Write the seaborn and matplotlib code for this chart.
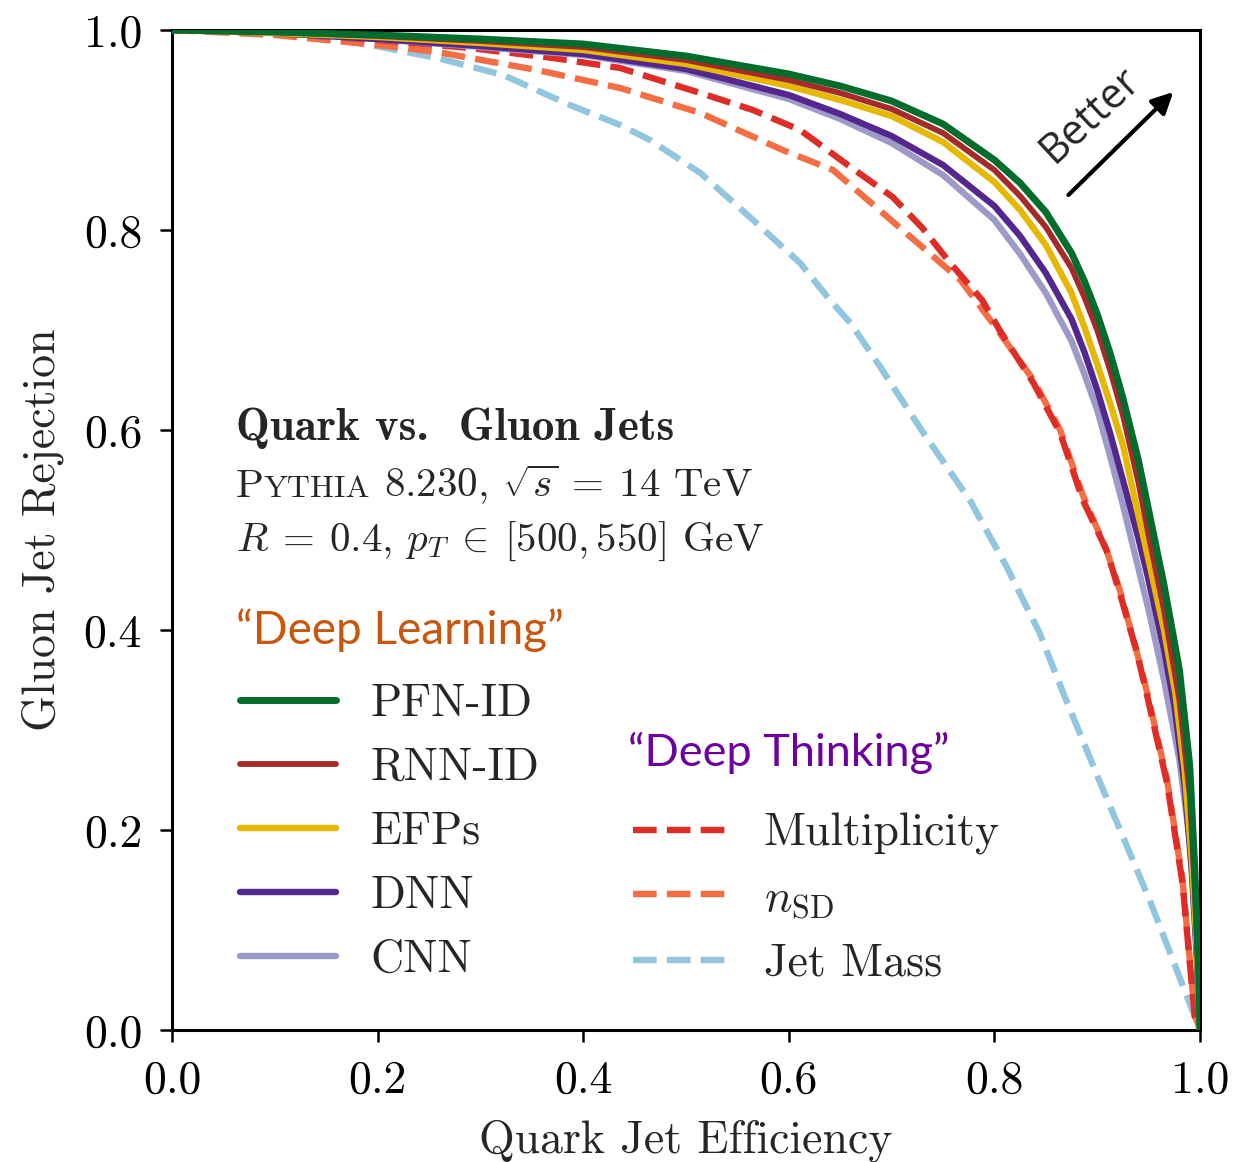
import numpy as np
import pandas as pd
import matplotlib
matplotlib.use("Agg")
import matplotlib.pyplot as plt
import seaborn as sns


# =============================================================================
# DATOS
# =============================================================================
x_pfn = [0.0, 0.1, 0.2, 0.3, 0.4, 0.5, 0.6, 0.65, 0.7, 0.75, 0.8, 0.825, 0.85,
         0.875, 0.8875, 0.9, 0.9125, 0.925, 0.94, 0.95, 0.965, 0.98, 0.99,
         0.995, 0.999, 1.0]
y_pfn = [1.0, 0.998, 0.995, 0.991, 0.986, 0.974, 0.956, 0.944, 0.929, 0.906,
         0.870, 0.847, 0.818, 0.777, 0.749, 0.716, 0.677, 0.632, 0.570, 0.520,
         0.445, 0.360, 0.265, 0.160, 0.050, 0.0]

x_rnn = [0.0, 0.1, 0.2, 0.3, 0.4, 0.5, 0.6, 0.65, 0.7, 0.75, 0.8, 0.825, 0.85,
         0.875, 0.8875, 0.9, 0.9125, 0.925, 0.94, 0.95, 0.965, 0.98, 0.99,
         0.995, 0.999, 1.0]
y_rnn = [1.0, 0.998, 0.994, 0.989, 0.983, 0.970, 0.950, 0.937, 0.921, 0.897,
         0.860, 0.834, 0.803, 0.762, 0.733, 0.700, 0.660, 0.615, 0.548, 0.495,
         0.420, 0.330, 0.235, 0.140, 0.040, 0.0]

x_efp = [0.0, 0.1, 0.2, 0.3, 0.4, 0.5, 0.6, 0.65, 0.7, 0.75, 0.8, 0.825, 0.85,
         0.875, 0.8875, 0.9, 0.9125, 0.925, 0.94, 0.95, 0.965, 0.976, 0.985,
         0.992, 0.997, 1.0]
y_efp = [1.0, 0.997, 0.993, 0.987, 0.980, 0.966, 0.944, 0.930, 0.914, 0.888,
         0.848, 0.820, 0.785, 0.737, 0.703, 0.666, 0.627, 0.585, 0.515, 0.470,
         0.400, 0.337, 0.260, 0.170, 0.080, 0.0]

x_dnn = [0.0, 0.1, 0.2, 0.3, 0.4, 0.5, 0.6, 0.65, 0.7, 0.75, 0.8, 0.825, 0.85,
         0.875, 0.8875, 0.9, 0.9125, 0.925, 0.94, 0.95, 0.965, 0.975, 0.985,
         0.992, 0.997, 1.0]
y_dnn = [1.0, 0.997, 0.991, 0.984, 0.976, 0.961, 0.935, 0.916, 0.894, 0.865,
         0.824, 0.794, 0.757, 0.711, 0.678, 0.640, 0.597, 0.550, 0.492, 0.450,
         0.380, 0.325, 0.245, 0.160, 0.070, 0.0]

x_cnn = [0.0, 0.1, 0.2, 0.3, 0.4, 0.5, 0.6, 0.65, 0.7, 0.75, 0.8, 0.825, 0.85,
         0.875, 0.8875, 0.9, 0.9125, 0.925, 0.94, 0.95, 0.965, 0.98, 0.99,
         0.996, 1.0]
y_cnn = [1.0, 0.997, 0.991, 0.983, 0.975, 0.959, 0.931, 0.911, 0.887, 0.855,
         0.810, 0.776, 0.737, 0.689, 0.656, 0.620, 0.574, 0.525, 0.462, 0.420,
         0.350, 0.270, 0.190, 0.100, 0.0]

x_mult = [0.0, 0.1, 0.2, 0.29, 0.371, 0.436, 0.514, 0.565, 0.611, 0.66, 0.701,
          0.73, 0.757, 0.788, 0.805, 0.838, 0.864, 0.886, 0.909, 0.922, 0.938,
          0.948, 0.968, 0.983, 0.995, 1.0]
y_mult = [1.0, 0.997, 0.990, 0.982, 0.972, 0.962, 0.937, 0.920, 0.900, 0.863,
          0.833, 0.802, 0.767, 0.730, 0.700, 0.647, 0.597, 0.530, 0.480, 0.437,
          0.380, 0.337, 0.247, 0.147, 0.013, 0.0]

x_nsd = [0.0, 0.1, 0.2, 0.258, 0.355, 0.436, 0.514, 0.594, 0.643, 0.767, 0.796,
         0.838, 0.864, 0.886, 0.909, 0.922, 0.938, 0.948, 0.968, 0.983, 0.995, 1.0]
y_nsd = [1.0, 0.995, 0.985, 0.978, 0.960, 0.942, 0.917, 0.880, 0.860, 0.750,
         0.710, 0.650, 0.600, 0.535, 0.480, 0.440, 0.380, 0.340, 0.250, 0.150,
         0.015, 0.0]

x_masa = [0.0, 0.127, 0.193, 0.258, 0.322, 0.387, 0.436, 0.465, 0.514, 0.562,
          0.611, 0.64, 0.66, 0.689, 0.731, 0.776, 0.812, 0.844, 0.867, 0.903,
          0.951, 1.0]
y_masa = [1.0, 0.995, 0.985, 0.972, 0.955, 0.925, 0.905, 0.890, 0.857, 0.813,
          0.767, 0.730, 0.707, 0.663, 0.597, 0.530, 0.463, 0.397, 0.337, 0.247,
          0.130, 0.0]

etiquetas_dl = ["PFN-ID", "RNN-ID", "EFPs", "DNN", "CNN"]
etiquetas_dt = ["Multiplicity", r"$n_\mathrm{SD}$", "Jet Mass"]
ticks = [0.0, 0.2, 0.4, 0.6, 0.8, 1.0]
tick_labels = ["0.0", "0.2", "0.4", "0.6", "0.8", "1.0"]


# =============================================================================
# ESTILO
# =============================================================================
sns.set_theme(style="ticks")
plt.rcParams["font.family"] = ["cmr10"]
plt.rcParams["mathtext.fontset"] = "cm"
plt.rcParams["axes.unicode_minus"] = False
plt.rcParams["axes.formatter.use_mathtext"] = True

TAM = 33
TAM_INFO = 29.5

curvas = [
    # (x, y, color, ancho, estilo, orden)
    (x_masa, y_masa, "#92c5de", 4.6, "--", 2),
    (x_nsd, y_nsd, "#f46d43", 4.6, "--", 3),
    (x_mult, y_mult, "#de2d26", 4.6, "--", 4),
    (x_cnn, y_cnn, "#9e9ac8", 4.6, "-", 5),
    (x_dnn, y_dnn, "#54278f", 4.6, "-", 6),
    (x_efp, y_efp, "#e6b800", 4.6, "-", 7),
    (x_rnn, y_rnn, "#a52a2a", 4.2, "-", 8),
    (x_pfn, y_pfn, "#006d2c", 5.0, "-", 9),
]


def dibujar():

    fig = plt.figure(figsize=(12.35, 11.62), dpi=100)
    ax = fig.add_axes([172 / 1235, 1 - 1030 / 1162, 1028 / 1235, 1000 / 1162])

    lineas = []
    for xs, ys, color, lw, ls, z in curvas:
        df = pd.DataFrame({"x": xs, "y": ys})
        sns.lineplot(data=df, x="x", y="y", ax=ax, color=color, lw=lw,
                     linestyle=ls, estimator=None, sort=False, zorder=z)
        lineas.append(ax.lines[-1])

    l_masa, l_nsd, l_mult, l_cnn, l_dnn, l_efp, l_rnn, l_pfn = lineas

    ax.set_xlim(0, 1)
    ax.set_ylim(0, 1)
    ax.set_xticks(ticks, tick_labels)
    ax.set_yticks(ticks, tick_labels)
    ax.tick_params(direction="out", length=8.5, width=1.8, pad=13,
                   labelsize=TAM, colors="black")
    for s in ax.spines.values():
        s.set_linewidth(2.2)
        s.set_color("black")
    ax.set_xlabel("Quark Jet Efficiency", fontsize=TAM, labelpad=13)
    ax.set_ylabel("Gluon Jet Rejection", fontsize=TAM, labelpad=14)

    # ---------------------------------------------------------------
    # Texto informativo
    # ---------------------------------------------------------------
    x0 = (236 - 172) / 1028
    ax.text(x0, 0.590, "Quark vs.  Gluon Jets", transform=ax.transAxes,
            fontsize=32.5, family="cmb10", va="baseline")

    fig.canvas.draw()
    renderer = fig.canvas.get_renderer()
    inv = ax.transAxes.inverted()
    xc = x0
    partes = [("P", TAM_INFO, 0.0), ("YTHIA", TAM_INFO * 0.78, 0.0),
              (r"8.230, $\sqrt{s}\:=\:14$ TeV", TAM_INFO, 0.33)]
    for txt, size, gap in partes:
        xc += gap * TAM_INFO / 72 * 100 / 1028
        t = ax.text(xc, 0.533, txt, transform=ax.transAxes, fontsize=size,
                    va="baseline")
        bb = t.get_window_extent(renderer=renderer)
        xc = inv.transform((bb.x1, bb.y0))[0]

    ax.text(x0, 0.479, r"$R\:=\:0.4$, $p_T\:\in\:[500, 550]$ GeV",
            transform=ax.transAxes, fontsize=TAM_INFO, va="baseline")

    # ---------------------------------------------------------------
    # Leyendas
    # ---------------------------------------------------------------
    ax.text(x0, 0.386, "\u201cDeep Learning\u201d", transform=ax.transAxes,
            fontsize=33, family="Lato", color="#c8560f", va="baseline")
    ax.text((628 - 172) / 1028, 0.264, "\u201cDeep Thinking\u201d",
            transform=ax.transAxes, fontsize=32.5, family="Lato",
            color="#6c00a0", va="baseline")

    opciones = dict(frameon=False, fontsize=TAM, handlelength=2.1,
                    handletextpad=0.75, labelspacing=0.49, borderpad=0,
                    borderaxespad=0, loc="upper left")
    leg1 = ax.legend([l_pfn, l_rnn, l_efp, l_dnn, l_cnn], etiquetas_dl,
                     bbox_to_anchor=((240 - 172) / 1028, 0.347), **opciones)
    ax.add_artist(leg1)
    ax.legend([l_mult, l_nsd, l_masa], etiquetas_dt,
              bbox_to_anchor=((633 - 172) / 1028, 0.217), **opciones)

    # ---------------------------------------------------------------
    # Flecha "Better"
    # ---------------------------------------------------------------
    ax.annotate("", xy=(0.974, 0.938), xytext=(0.872, 0.835),
                arrowprops=dict(arrowstyle="-|>", lw=3, color="black",
                                mutation_scale=32, shrinkA=0, shrinkB=0))
    ax.text(0.893, 0.915, "Better", transform=ax.transData, fontsize=30,
            family="Open Sans", rotation=43, ha="center", va="center",
            rotation_mode="anchor")

    fig.savefig("out.png", dpi=100)
    plt.close(fig)


if __name__ == "__main__":

    dibujar()
